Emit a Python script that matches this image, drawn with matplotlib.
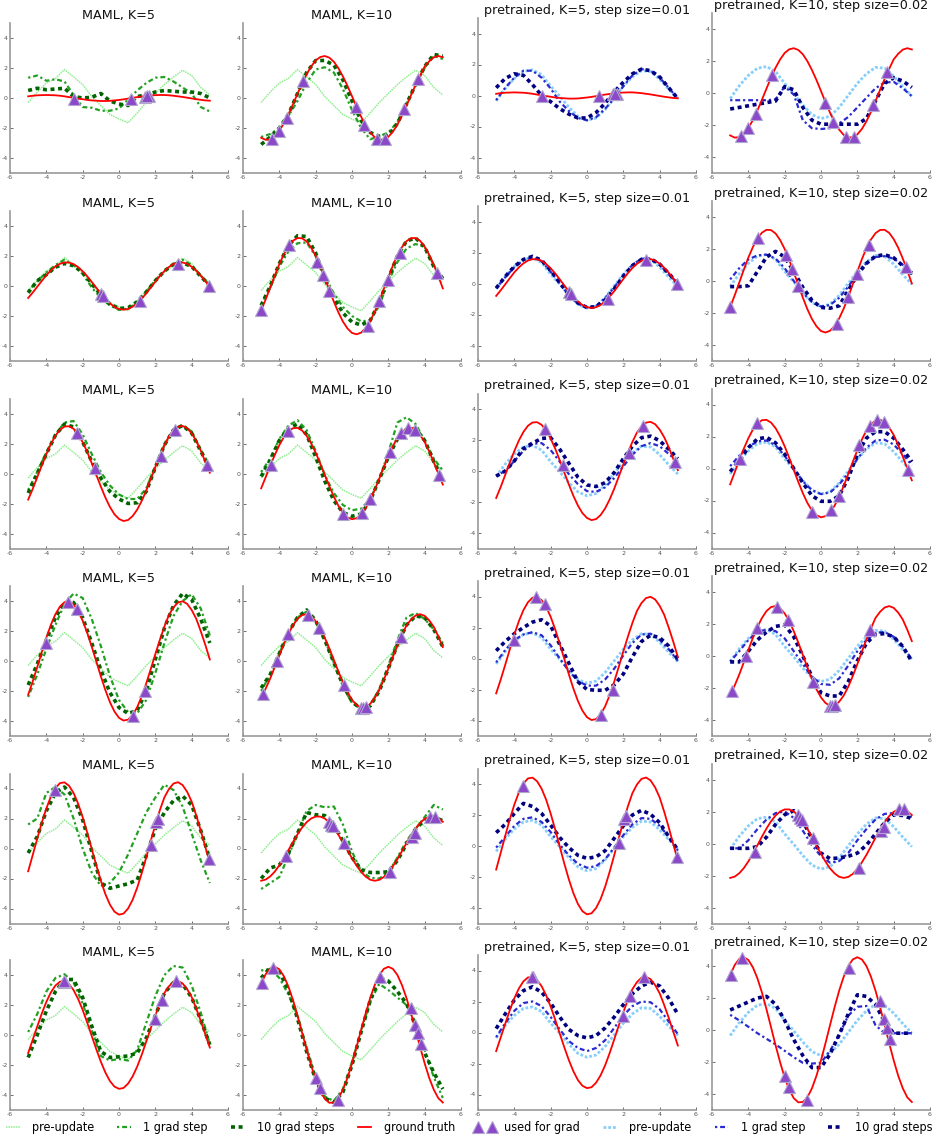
import numpy as np
import matplotlib
matplotlib.use("Agg")
import matplotlib.pyplot as plt
from matplotlib import font_manager
from matplotlib.lines import Line2D

plt.rcParams['axes.unicode_minus'] = False

# x positions of the sampled curves
xs = np.arange(-5, 5.01, 0.5)        # model predictions
xs_gt = np.arange(-5, 5.001, 0.25)   # ground truth (finer)

# pre-update predictions (same in every panel of a method)
maml_pre = [-0.3, 0.4, 1.0, 1.3, 1.9, 1.4, 0.9, 0.1, -0.5, -1.1, -1.4, -1.65, -1.0, -0.3, 0.3, 0.9, 1.4, 1.85, 1.5, 0.7, 0.2]
pretrained_pre = [-0.35, 0.45, 1.1, 1.55, 1.65, 1.35, 0.6, -0.05, -0.75, -1.35, -1.6, -1.45, -0.9, -0.15, 0.6, 1.2, 1.6, 1.55, 1.05, 0.4, -0.2]

# ---------------- row 1 ----------------
gt5_r1 = [0.11, 0.15, 0.18, 0.19, 0.20, 0.19, 0.18, 0.15, 0.11, 0.06, 0.01, -0.04, -0.08, -0.13, -0.16, -0.18, -0.20, -0.20, -0.19, -0.16, -0.13,
          -0.09, -0.04, 0.01, 0.06, 0.10, 0.14, 0.17, 0.19, 0.20, 0.20, 0.18, 0.15, 0.11, 0.07, 0.02, -0.03, -0.08, -0.12, -0.16, -0.18]
pts5_x_r1 = [-2.45, 0.65, 1.45, 1.65, 1.55]
pts5_y_r1 = [-0.05, -0.05, 0.1, 0.12, 0.11]
gt10_r1 = [-2.65, -2.79, -2.76, -2.56, -2.19, -1.69, -1.09, -0.42, 0.28, 0.96, 1.58, 2.10, 2.50, 2.73, 2.80, 2.69, 2.42, 1.99, 1.44, 0.81, 0.12,
           -0.58, -1.24, -1.82, -2.29, -2.62, -2.78, -2.77, -2.59, -2.25, -1.77, -1.18, -0.51, 0.19, 0.87, 1.50, 2.10, 2.45, 2.71, 2.80, 2.72]
pts10_x_r1 = [-4.4, -4.0, -3.6, -2.7, 0.2, 0.65, 1.35, 1.8, 2.85, 3.65]
pts10_y_r1 = [-2.7, -2.2, -1.3, 1.15, -0.6, -1.8, -2.75, -2.75, -0.75, 1.3]
maml5_g1_r1 = [1.35, 1.5, 1.15, 1.25, 1.1, 0.2, -0.6, -0.65, -0.85, -0.85, -0.7, -0.1, 0.5, 1.0, 1.35, 1.4, 1.1, 0.7, 0.3, -0.6, -0.9]
maml5_g10_r1 = [0.5, 0.65, 0.55, 0.6, 0.65, 0.1, 0.0, 0.05, 0.3, -0.2, -0.4, -0.5, 0.1, 0.2, 0.4, 0.5, 0.45, 0.4, 0.4, 0.3, 0.0]
maml10_g1_r1 = [-2.6, -2.4, -2.0, -1.2, -0.2, 1.0, 1.9, 2.05, 1.7, 0.6, -0.8, -2.0, -2.75, -2.55, -2.3, -1.6, -0.4, 0.9, 2.0, 2.8, 2.6]
maml10_g10_r1 = [-3.1, -2.6, -2.0, -1.1, 0.3, 1.7, 2.5, 2.5, 2.2, 1.2, -0.2, -1.5, -2.3, -2.55, -2.5, -1.7, -0.4, 0.9, 2.1, 2.9, 2.8]
pre5_g1_r1 = [-0.3, 0.5, 1.15, 1.6, 1.6, 1.15, 0.45, -0.4, -1.0, -1.45, -1.6, -1.4, -0.85, -0.2, 0.6, 1.3, 1.7, 1.6, 1.15, 0.5, -0.2]
pre5_g10_r1 = [0.5, 1.1, 1.4, 1.3, 0.7, 0.0, -0.4, -0.85, -1.2, -1.45, -1.45, -1.1, -0.5, 0.25, 0.85, 1.4, 1.7, 1.6, 1.2, 0.5, -0.2]
pre10_g1_r1 = [-0.45, -0.45, -0.45, -0.45, -0.45, -0.4, 0.4, -0.1, -1.7, -2.2, -2.25, -2.2, -1.9, -1.5, -0.9, -0.3, 0.3, 0.65, 0.7, 0.3, -0.2]
pre10_g10_r1 = [-1.0, -0.9, -0.8, -0.7, -0.6, -0.5, 0.4, 0.2, -0.9, -1.7, -1.95, -1.95, -1.95, -1.95, -1.95, -1.6, -0.5, 0.6, 0.95, 0.75, 0.35]

# ---------------- row 2 ----------------
gt5_r2 = [-0.80, -0.44, -0.05, 0.34, 0.72, 1.04, 1.30, 1.48, 1.57, 1.56, 1.46, 1.26, 0.98, 0.65, 0.27, -0.12, -0.51, -0.86, -1.16, -1.39, -1.53,
          -1.58, -1.53, -1.38, -1.15, -0.85, -0.49, -0.10, 0.29, 0.67, 1.00, 1.27, 1.47, 1.57, 1.57, 1.48, 1.28, 1.02, 0.69, 0.32, -0.08]
pts5_x_r2 = [-1.0, -0.86, 1.16, 3.27, 4.97]
pts5_y_r2 = [-0.55, -0.69, -1.02, 1.49, 0.0]
gt10_r2 = [-1.63, -0.89, -0.10, 0.70, 1.46, 2.12, 2.66, 3.02, 3.20, 3.18, 2.97, 2.56, 2.00, 1.32, 0.55, -0.25, -1.04, -1.76, -2.37, -2.83, -3.13,
           -3.22, -3.11, -2.81, -2.34, -1.72, -1.00, -0.20, 0.59, 1.36, 2.05, 2.59, 2.99, 3.19, 3.20, 3.01, 2.62, 2.08, 1.41, 0.66, -0.16]
pts10_x_r2 = [-5.0, -3.47, -1.9, -1.62, -1.25, 0.87, 1.51, 1.97, 2.62, 4.7]
pts10_y_r2 = [-1.62, 2.71, 1.6, 0.76, -0.33, -2.69, -1.02, 0.42, 2.22, 0.87]
maml5_g1_r2 = [-0.35, 0.3, 0.9, 1.4, 1.75, 1.4, 0.8, -0.1, -0.8, -1.3, -1.6, -1.5, -1.1, -0.4, 0.4, 1.0, 1.45, 1.75, 1.4, 0.7, 0.05]
maml5_g10_r2 = [-0.45, 0.35, 0.75, 1.25, 1.5, 1.35, 0.9, 0.15, -0.6, -1.2, -1.5, -1.45, -1.05, -0.4, 0.35, 1.0, 1.45, 1.55, 1.3, 0.65, 0.0]
maml10_g1_r2 = [-1.2, -0.1, 1.3, 2.3, 2.85, 2.9, 2.0, 0.7, -0.5, -1.4, -2.0, -2.35, -2.3, -1.3, 0.3, 1.6, 2.5, 2.8, 2.6, 1.4, 0.3]
maml10_g10_r2 = [-1.3, 0.0, 1.5, 2.7, 3.35, 3.3, 2.2, 0.5, -0.8, -1.8, -2.4, -2.6, -2.3, -1.1, 0.5, 2.0, 3.0, 3.2, 2.6, 1.3, 0.5]
pre5_g1_r2 = [-0.3, 0.4, 1.05, 1.5, 1.7, 1.45, 0.75, 0.0, -0.75, -1.3, -1.55, -1.45, -0.95, -0.25, 0.55, 1.2, 1.6, 1.6, 1.2, 0.6, 0.0]
pre5_g10_r2 = [-0.3, 0.45, 1.1, 1.55, 1.75, 1.5, 0.85, 0.05, -0.7, -1.25, -1.55, -1.5, -1.05, -0.35, 0.45, 1.15, 1.55, 1.6, 1.25, 0.65, 0.0]
pre10_g1_r2 = [0.1, 0.8, 1.35, 1.6, 1.65, 1.4, 0.8, 0.0, -0.75, -1.3, -1.6, -1.5, -1.05, -0.35, 0.45, 1.1, 1.5, 1.55, 1.4, 1.0, 0.4]
pre10_g10_r2 = [-0.35, -0.35, -0.3, 0.6, 1.5, 1.85, 1.5, 0.6, -0.4, -1.2, -1.65, -1.7, -1.55, -0.6, 0.4, 1.1, 1.55, 1.65, 1.45, 0.95, 0.5]

# ---------------- row 3 ----------------
gt5_r3 = [-1.74, -1.03, -0.25, 0.54, 1.29, 1.97, 2.52, 2.92, 3.13, 3.15, 2.98, 2.62, 2.09, 1.44, 0.69, -0.09, -0.87, -1.60, -2.23, -2.72, -3.03,
          -3.17, -3.10, -2.84, -2.41, -1.83, -1.14, -0.36, 0.43, 1.18, 1.88, 2.48, 2.87, 3.12, 3.17, 3.02, 2.67, 2.18, 1.53, 0.78, 0.05]
pts5_x_r3 = [-2.3, -1.34, 2.33, 3.09, 4.87]
pts5_y_r3 = [2.71, 0.38, 1.16, 2.89, 0.6]
gt10_r3 = [-0.99, -0.24, 0.52, 1.24, 1.89, 2.43, 2.81, 3.02, 3.04, 2.87, 2.52, 2.01, 1.39, 0.67, -0.09, -0.84, -1.54, -2.15, -2.62, -2.92, -3.05,
           -2.98, -2.73, -2.32, -1.76, -1.09, -0.34, 0.42, 1.14, 1.81, 2.39, 2.76, 3.00, 3.05, 2.90, 2.57, 2.10, 1.47, 0.75, -0.01, -0.74]
pts10_x_r3 = [-4.48, -3.52, -0.48, 0.55, 1.0, 2.1, 2.67, 3.08, 3.48, 4.79]
pts10_y_r3 = [0.6, 2.82, -2.71, -2.62, -1.69, 1.44, 2.67, 3.04, 2.93, -0.07]
maml5_g1_r3 = [-1.1, 0.1, 1.4, 2.6, 3.4, 3.5, 2.6, 1.3, 0.1, -0.8, -1.4, -1.7, -1.7, -1.0, 0.5, 1.9, 2.9, 3.25, 2.8, 1.6, 0.5]
maml5_g10_r3 = [-1.3, 0.0, 1.3, 2.55, 3.3, 3.1, 2.1, 0.8, -0.3, -1.2, -1.7, -2.0, -1.95, -1.2, 0.4, 1.9, 2.9, 3.2, 2.7, 1.5, 0.3]
maml10_g1_r3 = [0.1, 1.0, 2.3, 3.2, 3.55, 2.9, 1.5, -0.1, -1.3, -2.1, -2.45, -2.35, -1.7, -0.4, 1.4, 3.4, 3.75, 3.3, 2.2, 1.0, 0.2]
maml10_g10_r3 = [-0.2, 0.9, 2.2, 3.0, 3.3, 2.6, 1.1, -0.5, -1.8, -2.6, -2.85, -2.7, -1.8, -0.4, 1.1, 2.3, 2.95, 3.0, 2.2, 0.8, -0.4]
pre5_g1_r3 = [-0.3, 0.0, 0.65, 1.3, 1.75, 1.8, 1.35, 0.6, -0.2, -0.85, -1.3, -1.35, -1.05, -0.45, 0.3, 1.05, 1.6, 1.8, 1.6, 1.1, 0.6]
pre5_g10_r3 = [-0.33, 0.0, 0.65, 1.45, 1.8, 2.1, 2.15, 1.4, 0.5, -0.4, -0.9, -1.0, -0.75, -0.1, 0.8, 1.6, 2.15, 2.25, 1.95, 1.4, 0.8]
pre10_g1_r3 = [0.15, 0.8, 1.35, 1.7, 1.75, 1.45, 0.8, 0.0, -0.8, -1.35, -1.6, -1.5, -1.0, -0.3, 0.6, 1.3, 1.75, 1.8, 1.5, 0.9, 0.2]
pre10_g10_r3 = [-0.2, 0.5, 1.3, 1.85, 1.95, 1.6, 0.9, 0.0, -0.9, -1.7, -2.05, -2.05, -1.7, -0.6, 0.9, 1.9, 2.3, 2.3, 1.9, 1.2, 0.42]

# ---------------- row 4 ----------------
gt5_r4 = [-2.25, -1.36, -0.40, 0.59, 1.55, 2.41, 3.12, 3.63, 3.92, 3.97, 3.77, 3.33, 2.69, 1.88, 0.95, -0.03, -1.02, -1.94, -2.74, -3.37, -3.79,
          -3.97, -3.91, -3.61, -3.08, -2.36, -1.49, -0.53, 0.46, 1.41, 2.30, 3.07, 3.58, 3.90, 3.98, 3.81, 3.40, 2.82, 1.99, 1.08, 0.10]
pts5_x_r4 = [-4.0, -2.81, -2.33, 0.79, 1.42]
pts5_y_r4 = [1.22, 3.96, 3.49, -3.67, -2.0]
gt10_r4 = [-2.40, -1.84, -1.16, -0.40, 0.37, 1.13, 1.81, 2.38, 2.81, 3.06, 3.12, 2.98, 2.66, 2.18, 1.55, 0.84, 0.07, -0.70, -1.44, -2.08, -2.59,
           -2.94, -3.11, -3.08, -2.86, -2.47, -1.92, -1.25, -0.51, 0.27, 1.03, 1.73, 2.38, 2.76, 3.03, 3.12, 3.01, 2.71, 2.28, 1.64, 0.93]
pts10_x_r4 = [-4.9, -4.15, -3.52, -2.41, -1.84, -0.46, 0.5, 0.62, 0.77, 2.71]
pts10_y_r4 = [-2.18, 0.0, 1.78, 3.04, 2.22, -1.6, -3.11, -3.12, -3.07, 1.62]
maml5_g1_r4 = [-2.4, -0.9, 0.8, 2.4, 3.8, 4.5, 4.2, 2.8, 1.0, -1.0, -2.6, -3.4, -3.5, -2.6, -0.8, 1.2, 3.0, 4.0, 4.45, 3.5, 1.7]
maml5_g10_r4 = [-1.6, -0.2, 1.4, 2.9, 3.9, 3.9, 2.9, 1.2, -0.6, -2.1, -3.1, -3.5, -3.3, -2.0, 0.1, 2.2, 3.7, 4.5, 4.1, 2.8, 1.2]
maml10_g1_r4 = [-2.0, -0.9, 0.5, 1.9, 2.9, 3.3, 2.6, 1.4, -0.1, -1.7, -2.8, -3.2, -2.9, -1.9, -0.3, 1.4, 2.9, 3.2, 2.8, 2.1, 1.2]
maml10_g10_r4 = [-1.8, -0.9, 0.5, 1.9, 2.9, 3.4, 2.7, 1.4, -0.1, -1.6, -2.7, -3.2, -3.0, -2.0, -0.5, 1.1, 2.4, 3.0, 2.9, 2.1, 0.95]
pre5_g1_r4 = [-0.25, 0.55, 1.2, 1.55, 1.7, 1.5, 0.85, 0.0, -0.8, -1.45, -1.75, -1.75, -1.35, -0.65, 0.2, 1.0, 1.55, 1.6, 1.2, 0.6, -0.15]
pre5_g10_r4 = [0.5, 1.1, 1.6, 2.0, 2.35, 2.5, 2.1, 0.9, -0.3, -1.5, -2.0, -2.05, -2.05, -1.7, -1.0, 0.1, 1.1, 1.5, 1.35, 0.8, -0.05]
pre10_g1_r4 = [-0.35, 0.3, 1.0, 1.5, 1.65, 1.55, 1.1, 0.3, -0.5, -1.3, -1.75, -1.8, -1.4, -0.6, 0.3, 1.0, 1.45, 1.5, 1.2, 0.6, -0.2]
pre10_g10_r4 = [-0.37, -0.37, 0.3, 1.0, 1.5, 1.85, 1.95, 1.2, 0.0, -1.3, -2.3, -2.5, -2.5, -1.6, -0.3, 0.8, 1.35, 1.4, 1.2, 0.6, -0.35]

# ---------------- row 5 ----------------
gt5_r5 = [-1.52, -0.44, 0.66, 1.72, 2.67, 3.46, 4.03, 4.36, 4.41, 4.18, 3.70, 2.99, 2.09, 1.06, -0.04, -1.13, -2.15, -3.04, -3.74, -4.21, -4.41,
          -4.34, -4.00, -3.42, -2.62, -1.65, -0.59, 0.51, 1.57, 2.56, 3.41, 3.97, 4.33, 4.42, 4.23, 3.78, 3.13, 2.21, 1.20, 0.11, -0.95]
pts5_x_r5 = [-3.53, 1.75, 2.06, 2.15, 4.97]
pts5_y_r5 = [3.89, 0.22, 1.74, 1.96, -0.73]
gt10_r5 = [-2.15, -2.07, -1.86, -1.54, -1.12, -0.64, -0.11, 0.43, 0.94, 1.39, 1.75, 2.00, 2.13, 2.13, 2.00, 1.74, 1.37, 0.92, 0.41, -0.13, -0.65,
           -1.14, -1.56, -1.87, -2.08, -2.15, -2.09, -1.90, -1.59, -1.18, -0.71, -0.18, 0.36, 0.87, 1.33, 1.71, 1.98, 2.12, 2.14, 2.02, 1.78]
pts10_x_r5 = [-3.61, -1.25, -1.15, -1.07, -0.42, 2.1, 3.3, 3.45, 4.28, 4.55]
pts10_y_r5 = [-0.51, 1.8, 1.6, 1.47, 0.37, -1.54, 0.77, 1.03, 2.13, 2.13]
maml5_g1_r5 = [1.6, 2.0, 3.7, 4.1, 3.6, 2.0, 0.0, -1.6, -2.5, -2.3, -1.6, -0.4, 1.0, 2.4, 3.4, 4.25, 3.9, 2.8, 1.0, -0.8, -2.3]
maml5_g10_r5 = [-0.3, 0.8, 2.5, 3.7, 4.1, 3.4, 1.9, -0.2, -2.3, -2.65, -2.5, -2.35, -2.1, -0.5, 1.3, 2.4, 3.2, 3.5, 2.9, 1.2, -0.7]
maml10_g1_r5 = [-2.7, -2.3, -1.9, -0.5, 1.0, 2.5, 2.9, 2.75, 2.8, 1.6, -0.2, -1.5, -1.95, -2.0, -1.6, -0.6, 0.5, 1.3, 2.1, 2.9, 2.6]
maml10_g10_r5 = [-2.0, -1.3, -1.1, -0.3, 1.0, 2.4, 2.25, 2.2, 1.6, 0.5, -0.6, -1.4, -1.6, -1.6, -1.55, -0.8, 0.3, 1.3, 1.9, 2.1, 1.85]
pre5_g1_r5 = [-0.1, 0.6, 1.3, 1.75, 1.85, 1.55, 0.9, 0.1, -0.6, -1.15, -1.4, -1.3, -0.85, -0.1, 0.7, 1.4, 1.8, 1.75, 1.3, 0.6, -0.3]
pre5_g10_r5 = [0.86, 1.4, 2.1, 2.75, 2.55, 2.1, 1.35, 0.55, -0.1, -0.6, -0.8, -0.7, -0.3, 0.5, 1.3, 2.0, 2.3, 2.05, 1.5, 0.6, -0.25]
pre10_g1_r5 = [-0.3, -0.3, 0.2, 0.9, 1.5, 1.9, 2.0, 1.6, 0.8, -0.1, -0.8, -1.2, -1.1, -0.6, 0.2, 0.9, 1.5, 1.85, 1.9, 1.8, 1.67]
pre10_g10_r5 = [-0.3, -0.3, -0.3, -0.2, 0.4, 1.2, 1.8, 2.05, 1.4, 0.3, -0.6, -0.95, -0.9, -0.8, -0.6, -0.1, 0.6, 1.3, 1.8, 1.75, 1.56]

# ---------------- row 6 ----------------
gt5_r6 = [-1.20, -0.32, 0.57, 1.43, 2.21, 2.84, 3.30, 3.55, 3.59, 3.39, 2.99, 2.40, 1.67, 0.83, -0.07, -0.95, -1.78, -2.50, -3.07, -3.44, -3.59,
          -3.53, -3.24, -2.76, -2.11, -1.32, -0.44, 0.46, 1.31, 2.11, 2.80, 3.25, 3.54, 3.59, 3.44, 3.06, 2.53, 1.77, 0.94, 0.05, -0.84]
pts5_x_r6 = [-2.98, -3.05, 1.99, 2.38, 3.14]
pts5_y_r6 = [3.56, 3.58, 1.08, 2.34, 3.6]
gt10_r6 = [3.42, 4.06, 4.44, 4.55, 4.38, 3.92, 3.23, 2.34, 1.29, 0.17, -0.96, -2.02, -2.97, -3.73, -4.26, -4.52, -4.50, -4.21, -3.65, -2.86, -1.90,
           -0.81, 0.32, 1.43, 2.46, 3.33, 3.99, 4.41, 4.55, 4.41, 4.00, 3.33, 2.46, 1.44, 0.33, -0.81, -1.89, -2.86, -3.64, -4.21, -4.50]
pts10_x_r6 = [-4.95, -4.35, -1.98, -1.75, -0.76, 1.55, 3.23, 3.46, 3.63, 3.79]
pts10_y_r6 = [3.45, 4.49, -2.85, -3.56, -4.35, 3.89, 1.79, 0.69, 0.13, -0.57]
maml5_g1_r6 = [0.2, 1.4, 2.9, 3.8, 4.05, 3.5, 2.1, 0.3, -1.4, -1.7, -1.6, -1.7, -1.0, 0.8, 2.6, 4.0, 4.6, 4.5, 3.3, 1.5, -0.6]
maml5_g10_r6 = [-1.5, 0.0, 1.6, 2.9, 3.7, 3.7, 2.5, 0.6, -1.1, -1.5, -1.45, -1.4, -1.2, -0.2, 1.3, 2.8, 3.5, 3.4, 2.5, 1.0, -0.65]
maml10_g1_r6 = [4.3, 4.4, 3.8, 2.7, 1.3, -0.8, -2.8, -4.1, -4.4, -3.6, -1.8, 0.3, 2.2, 3.4, 3.0, 2.5, 2.0, 0.8, -1.0, -2.8, -4.2]
maml10_g10_r6 = [3.8, 4.5, 4.2, 3.0, 1.1, -1.1, -3.0, -4.2, -4.5, -3.8, -2.0, 0.2, 2.3, 3.8, 3.6, 2.9, 2.1, 0.6, -1.2, -2.5, -3.6]
pre5_g1_r6 = [-0.3, 0.6, 1.4, 1.9, 2.0, 1.7, 1.0, 0.2, -0.55, -1.0, -1.2, -1.0, -0.5, 0.3, 1.1, 1.7, 2.0, 1.95, 1.5, 0.7, -0.1]
pre5_g10_r6 = [0.25, 1.2, 2.1, 2.7, 2.95, 2.6, 1.9, 1.0, 0.2, -0.2, -0.35, -0.2, 0.3, 1.0, 1.8, 2.5, 3.0, 3.25, 3.0, 2.2, 1.17]
pre10_g1_r6 = [0.95, 0.6, 0.2, -0.2, -0.55, -0.9, -1.3, -1.7, -2.05, -2.1, -2.05, -1.3, -0.3, 0.9, 1.45, 1.5, 0.3, -0.2, -0.2, -0.2, -0.2]
pre10_g10_r6 = [1.25, 1.5, 1.75, 2.0, 2.1, 1.6, 0.6, -0.6, -1.6, -2.35, -2.35, -1.5, -0.3, 1.0, 2.2, 2.1, 1.6, 0.5, -0.2, -0.2, -0.2]

titles = ["MAML, K=5", "MAML, K=10", "pretrained, K=5, step size=0.01", "pretrained, K=10, step size=0.02"]

# tables built from the named lists above
gt_rows = {5: [gt5_r1, gt5_r2, gt5_r3, gt5_r4, gt5_r5, gt5_r6],
           10: [gt10_r1, gt10_r2, gt10_r3, gt10_r4, gt10_r5, gt10_r6]}
pts_rows = {5: [(pts5_x_r1, pts5_y_r1), (pts5_x_r2, pts5_y_r2), (pts5_x_r3, pts5_y_r3),
                (pts5_x_r4, pts5_y_r4), (pts5_x_r5, pts5_y_r5), (pts5_x_r6, pts5_y_r6)],
            10: [(pts10_x_r1, pts10_y_r1), (pts10_x_r2, pts10_y_r2), (pts10_x_r3, pts10_y_r3),
                 (pts10_x_r4, pts10_y_r4), (pts10_x_r5, pts10_y_r5), (pts10_x_r6, pts10_y_r6)]}
fit_rows = {
    ("maml", 5): [(maml5_g1_r1, maml5_g10_r1), (maml5_g1_r2, maml5_g10_r2), (maml5_g1_r3, maml5_g10_r3),
                  (maml5_g1_r4, maml5_g10_r4), (maml5_g1_r5, maml5_g10_r5), (maml5_g1_r6, maml5_g10_r6)],
    ("maml", 10): [(maml10_g1_r1, maml10_g10_r1), (maml10_g1_r2, maml10_g10_r2), (maml10_g1_r3, maml10_g10_r3),
                   (maml10_g1_r4, maml10_g10_r4), (maml10_g1_r5, maml10_g10_r5), (maml10_g1_r6, maml10_g10_r6)],
    ("pre", 5): [(pre5_g1_r1, pre5_g10_r1), (pre5_g1_r2, pre5_g10_r2), (pre5_g1_r3, pre5_g10_r3),
                 (pre5_g1_r4, pre5_g10_r4), (pre5_g1_r5, pre5_g10_r5), (pre5_g1_r6, pre5_g10_r6)],
    ("pre", 10): [(pre10_g1_r1, pre10_g10_r1), (pre10_g1_r2, pre10_g10_r2), (pre10_g1_r3, pre10_g10_r3),
                  (pre10_g1_r4, pre10_g10_r4), (pre10_g1_r5, pre10_g10_r5), (pre10_g1_r6, pre10_g10_r6)],
}
panels = [("maml", 5), ("maml", 10), ("pre", 5), ("pre", 10)]

# line styles
styles = {
    "maml": dict(pre=dict(color="#90ee90", ls=(0, (1, 0.6)), lw=1.1),
                 g1=dict(color="#22a022", ls=(0, (1, 1.3, 2.2, 1.3)), lw=1.6),
                 g10=dict(color="#006400", ls=(0, (1.1, 1.0)), lw=2.6)),
    "pre": dict(pre=dict(color="#87cefa", ls=(0, (1, 0.7)), lw=2.0),
                g1=dict(color="#2a2ad0", ls=(0, (1, 1.3, 2.2, 1.3)), lw=1.6),
                g10=dict(color="#000080", ls=(0, (1.1, 1.0)), lw=2.6)),
}
gt_style = dict(color="red", ls="-", lw=1.3)
pt_style = dict(ls="none", marker="^", ms=8, mfc="#8b48c8", mec="#b0a6d0", mew=0.8)

W, H = 936, 1140
fig = plt.figure(figsize=(W / 100, H / 100), dpi=100)

col_left = [10, 243, 478, 712]
col_height = [150, 150, 155, 160]
ax_w = 218
row_bottom = [173, 361, 548.5, 736, 923.5, 1110]

for r in range(6):
    for c, (method, k) in enumerate(panels):
        ax = fig.add_axes([col_left[c] / W, 1 - row_bottom[r] / H, ax_w / W, col_height[c] / H])
        pre = maml_pre if method == "maml" else pretrained_pre
        g1, g10 = fit_rows[(method, k)][r]
        st = styles[method]
        ax.plot(xs, pre, linestyle=st["pre"]["ls"], color=st["pre"]["color"], lw=st["pre"]["lw"])
        ax.plot(xs, g1, linestyle=st["g1"]["ls"], color=st["g1"]["color"], lw=st["g1"]["lw"])
        ax.plot(xs, g10, linestyle=st["g10"]["ls"], color=st["g10"]["color"], lw=st["g10"]["lw"])
        ax.plot(xs_gt, gt_rows[k][r], linestyle=gt_style["ls"], color=gt_style["color"], lw=gt_style["lw"])
        px, py = pts_rows[k][r]
        ax.plot(px, py, **pt_style)

        ax.set_xlim(-6, 6)
        ax.set_ylim(-5, 5)
        ax.set_xticks([-6, -4, -2, 0, 2, 4, 6])
        ax.set_yticks([-4, -2, 0, 2, 4])
        ax.tick_params(labelsize=4.5, length=2, width=0.6, pad=1.5, colors="#555555", direction="in")
        for side in ("top", "right"):
            ax.spines[side].set_visible(False)
        for side in ("left", "bottom"):
            ax.spines[side].set_color("#999999")
            ax.spines[side].set_linewidth(1.2)
        ax.set_title(titles[c], fontsize=9.2, pad=3, color="#111111")

# legend font: a narrow face if one is installed
names = {(f.name, f.stretch) for f in font_manager.fontManager.ttflist}
if any(n == "Liberation Sans Narrow" for n, _ in names):
    leg_font = font_manager.FontProperties(family="Liberation Sans Narrow", size=10)
elif ("DejaVu Sans", "condensed") in names:
    leg_font = font_manager.FontProperties(family="DejaVu Sans", stretch="condensed", size=9)
else:
    leg_font = font_manager.FontProperties(family="DejaVu Sans", size=8)

handles = [
    Line2D([], [], linestyle=styles["maml"]["pre"]["ls"], color=styles["maml"]["pre"]["color"], lw=styles["maml"]["pre"]["lw"]),
    Line2D([], [], linestyle=styles["maml"]["g1"]["ls"], color=styles["maml"]["g1"]["color"], lw=styles["maml"]["g1"]["lw"]),
    Line2D([], [], linestyle=styles["maml"]["g10"]["ls"], color=styles["maml"]["g10"]["color"], lw=styles["maml"]["g10"]["lw"]),
    Line2D([], [], linestyle="-", color="red", lw=1.3),
    Line2D([], [], **pt_style),
    Line2D([], [], linestyle=styles["pre"]["pre"]["ls"], color=styles["pre"]["pre"]["color"], lw=styles["pre"]["pre"]["lw"]),
    Line2D([], [], linestyle=styles["pre"]["g1"]["ls"], color=styles["pre"]["g1"]["color"], lw=styles["pre"]["g1"]["lw"]),
    Line2D([], [], linestyle=styles["pre"]["g10"]["ls"], color=styles["pre"]["g10"]["color"], lw=styles["pre"]["g10"]["lw"]),
]
labels = ["pre-update", "1 grad step", "10 grad steps", "ground truth", "used for grad",
          "pre-update", "1 grad step", "10 grad steps"]
fig.legend(handles, labels, loc="center", mode="expand",
           bbox_to_anchor=(2 / W, 1 - 1138 / H, 930 / W, 20 / H), ncol=8,
           frameon=False, prop=leg_font, handlelength=1.7, handletextpad=0.7,
           borderaxespad=0.0, borderpad=0.0, numpoints=2)

fig.savefig("out.png", dpi=100)
